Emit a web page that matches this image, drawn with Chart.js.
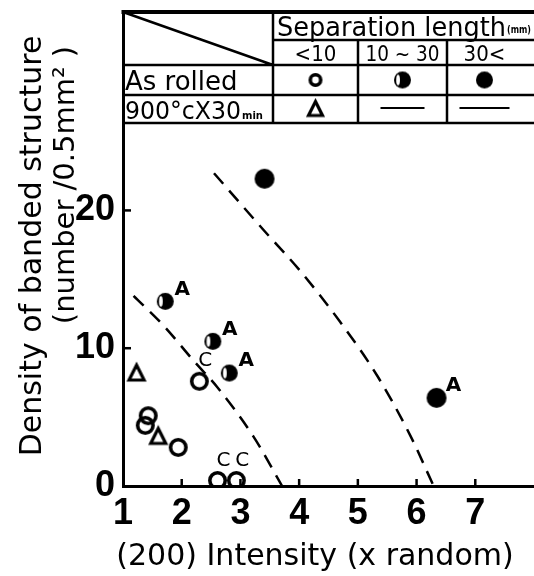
<!DOCTYPE html>
<html>
<head>
<meta charset="utf-8">
<script src="https://cdn.jsdelivr.net/npm/chart.js@4/dist/chart.umd.min.js"></script>
<style>
  html, body { margin: 0; padding: 0; background: #fff; }
  #wrap { width: 534px; height: 576px; }
</style>
</head>
<body>
<div id="wrap"><canvas id="c"></canvas></div>
<script>
// ---- data ----
const openX   = [2.30, 1.43, 1.38, 1.94, 2.61, 2.93];
const openY   = [7.6, 5.1, 4.4, 2.8, 0.4, 0.4];
const openLbl = ['C', '', '', '', 'C', 'C'];

const halfX   = [1.72, 2.53, 2.81];
const halfY   = [13.4, 10.5, 8.2];
const halfLbl = ['A', 'A', 'A'];

const fullX   = [3.41, 6.34];
const fullY   = [22.3, 6.4];
const fullLbl = ['', 'A'];

const triX    = [1.23, 1.60];
const triY    = [8.2, 3.6];

// dashed boundary curves
const curve1X = [1.18, 1.70, 2.20, 2.60, 3.22, 3.71];
const curve1Y = [13.8, 11.6, 9.1, 7.2, 3.6, 0.0];
const curve2X = [2.55, 3.39, 4.02, 4.70, 5.33, 5.90, 6.29];
const curve2Y = [22.7, 18.6, 15.6, 11.9, 8.0, 3.6, 0.0];

const xTicks = [1, 2, 3, 4, 5, 6, 7];
const yTicks = [0, 10, 20];

const xTitle = '(200) Intensity (x random)';
const yTitle = ['Density of banded structure', '(number /0.5mm² )'];

const toPts = (xs, ys) => xs.map((x, i) => ({ x, y: ys[i] }));

// ---- marker images ----
function marker(kind, r) {
  const s = Math.ceil(r * 2 + 6);
  const c = document.createElement('canvas');
  c.width = s; c.height = s;
  const g = c.getContext('2d');
  const m = s / 2;
  g.fillStyle = '#000';
  g.strokeStyle = '#000';
  if (kind === 'open') {
    g.lineWidth = 3.6;
    g.beginPath(); g.arc(m, m, r - 1.8, 0, Math.PI * 2); g.stroke();
  } else if (kind === 'full') {
    g.beginPath(); g.arc(m, m, r, 0, Math.PI * 2); g.fill();
  } else if (kind === 'half') {
    g.beginPath(); g.arc(m, m, r, 0, Math.PI * 2); g.fill();
    g.fillStyle = '#fff';
    g.beginPath();
    g.ellipse(m - r * 0.52, m, r * 0.22, r * 0.62, 0, 0, Math.PI * 2);
    g.fill();
  } else if (kind === 'tri') {
    g.lineWidth = 3.2;
    g.lineJoin = 'miter';
    g.beginPath();
    g.moveTo(m, m - r + 1);
    g.lineTo(m + r - 1.5, m + r - 2);
    g.lineTo(m - r + 1.5, m + r - 2);
    g.closePath();
    g.stroke();
  }
  return c;
}

const mkOpen = marker('open', 9.5);
const mkHalf = marker('half', 8.5);
const mkFull = marker('full', 10);
const mkTri  = marker('tri', 9);
const mkOpenS = marker('open', 7);
const mkHalfS = marker('half', 8.5);
const mkFullS = marker('full', 8.5);
const mkTriS  = marker('tri', 8.5);

// ---- point letters (A / C) ----
const letterPlugin = {
  id: 'letters',
  afterDatasetsDraw(chart) {
    const { ctx, scales } = chart;
    const groups = [
      { xs: openX, ys: openY, lbl: openLbl, dx: 6, dy: -20 },
      { xs: halfX, ys: halfY, lbl: halfLbl, dx: 17, dy: -12 },
      { xs: fullX, ys: fullY, lbl: fullLbl, dx: 17, dy: -12 }
    ];
    ctx.save();
    ctx.fillStyle = '#000';
    ctx.textAlign = 'center';
    ctx.textBaseline = 'middle';
    groups.forEach(gr => {
      gr.lbl.forEach((t, i) => {
        if (!t) return;
        const px = scales.x.getPixelForValue(gr.xs[i]);
        const py = scales.y.getPixelForValue(gr.ys[i]);
        ctx.font = (t === 'A' ? 'bold 20px' : '20px') + ' "DejaVu Sans", sans-serif';
        ctx.fillText(t, px + gr.dx, py + gr.dy);
      });
    });
    ctx.restore();
  }
};

// ---- legend table, inner ticks, axis titles ----
const framePlugin = {
  id: 'frame',
  afterDraw(chart) {
    const { ctx, chartArea, scales } = chart;
    const L = chartArea.left, T = chartArea.top, R = chart.width;
    const c1 = 273, c2 = 358, c3 = 447;
    const r1 = 40, r2 = 65, r3 = 95, r4 = 123;

    ctx.save();
    ctx.strokeStyle = '#000';
    ctx.fillStyle = '#000';

    // inner tick marks
    ctx.lineWidth = 2.5;
    xTicks.slice(1).forEach(v => {
      const x = scales.x.getPixelForValue(v);
      ctx.beginPath(); ctx.moveTo(x, chartArea.bottom); ctx.lineTo(x, chartArea.bottom - 7); ctx.stroke();
    });
    yTicks.slice(1).forEach(v => {
      const y = scales.y.getPixelForValue(v);
      ctx.beginPath(); ctx.moveTo(L, y); ctx.lineTo(L + 8, y); ctx.stroke();
    });

    // table
    ctx.lineWidth = 4;
    ctx.beginPath(); ctx.moveTo(L - 1.5, T); ctx.lineTo(R, T); ctx.stroke();
    ctx.lineWidth = 2.5;
    ctx.beginPath();
    ctx.moveTo(c1, r1); ctx.lineTo(R, r1);
    ctx.moveTo(L, r2); ctx.lineTo(R, r2);
    ctx.moveTo(L, r3); ctx.lineTo(R, r3);
    ctx.moveTo(L, r4); ctx.lineTo(R, r4);
    ctx.moveTo(c1, T); ctx.lineTo(c1, r4);
    ctx.moveTo(c2, r1); ctx.lineTo(c2, r4);
    ctx.moveTo(c3, r1); ctx.lineTo(c3, r4);
    ctx.moveTo(L, T); ctx.lineTo(c1, r2);
    ctx.stroke();

    ctx.textBaseline = 'alphabetic';
    ctx.textAlign = 'left';
    ctx.font = '26px "DejaVu Sans", sans-serif';
    ctx.fillText('Separation length', 277, 36, 229);
    ctx.font = 'bold 10px "DejaVu Sans", sans-serif';
    ctx.fillText('(mm)', 507, 33, 24);

    ctx.textAlign = 'center';
    ctx.font = '22px "DejaVu Sans Condensed", "DejaVu Sans", sans-serif';
    ctx.fillText('<10', (c1 + c2) / 2, 61);
    ctx.fillText('10 ~ 30', (c2 + c3) / 2, 61, 74);
    ctx.fillText('30<', (c3 + R) / 2 - 6, 61);

    ctx.textAlign = 'left';
    ctx.font = '26px "DejaVu Sans", sans-serif';
    ctx.fillText('As rolled', L + 2, 90, 116);
    ctx.font = '24px "DejaVu Sans", sans-serif';
    ctx.fillText('900°cX30', L + 2, 119, 116);
    ctx.font = 'bold 11px "DejaVu Sans", sans-serif';
    ctx.fillText('min', 242, 119, 21);

    const cx1 = (c1 + c2) / 2, cx2 = (c2 + c3) / 2, cx3 = (c3 + R) / 2 - 6;
    ctx.drawImage(mkOpenS, cx1 - mkOpenS.width / 2, 80 - mkOpenS.height / 2);
    ctx.drawImage(mkHalfS, cx2 - mkHalfS.width / 2, 80 - mkHalfS.height / 2);
    ctx.drawImage(mkFullS, cx3 - mkFullS.width / 2, 80 - mkFullS.height / 2);
    ctx.drawImage(mkTriS, cx1 - mkTriS.width / 2, 109 - mkTriS.height / 2);
    ctx.lineWidth = 2;
    ctx.beginPath();
    ctx.moveTo(cx2 - 22, 108); ctx.lineTo(cx2 + 22, 108);
    ctx.moveTo(cx3 - 25, 108); ctx.lineTo(cx3 + 25, 108);
    ctx.stroke();

    // x axis title
    ctx.textAlign = 'center';
    ctx.textBaseline = 'middle';
    ctx.font = '30px "DejaVu Sans", sans-serif';
    ctx.fillText(xTitle, 315, 557, 404);

    // y axis title (two lines, rotated)
    ctx.save();
    ctx.translate(33, 246);
    ctx.rotate(-Math.PI / 2);
    ctx.font = '30px "DejaVu Sans", sans-serif';
    ctx.fillText(yTitle[0], 0, 0, 428);
    ctx.restore();
    ctx.save();
    ctx.translate(66, 185);
    ctx.rotate(-Math.PI / 2);
    ctx.font = '29px "DejaVu Sans", sans-serif';
    ctx.fillText(yTitle[1], 0, 0, 310);
    ctx.restore();

    ctx.restore();
  }
};

const dashed = {
  showLine: true,
  borderColor: '#000',
  borderWidth: 2.5,
  borderDash: [14, 9],
  pointRadius: 0,
  cubicInterpolationMode: 'monotone',
  fill: false
};

const tickFont = { family: '"Liberation Sans", sans-serif', size: 36, weight: 'bold' };

new Chart(document.getElementById('c'), {
  type: 'scatter',
  data: {
    datasets: [
      Object.assign({ data: toPts(curve1X, curve1Y) }, dashed),
      Object.assign({ data: toPts(curve2X, curve2Y) }, dashed),
      { data: toPts(openX, openY), pointStyle: mkOpen, pointRadius: 9 },
      { data: toPts(halfX, halfY), pointStyle: mkHalf, pointRadius: 9 },
      { data: toPts(fullX, fullY), pointStyle: mkFull, pointRadius: 10 },
      { data: toPts(triX, triY), pointStyle: mkTri, pointRadius: 9 }
    ]
  },
  plugins: [letterPlugin, framePlugin],
  options: {
    responsive: true,
    maintainAspectRatio: false,
    animation: false,
    layout: { autoPadding: false, padding: { top: 12, left: 0, right: 0, bottom: 0 } },
    scales: {
      x: {
        type: 'linear',
        min: 1,
        max: 8,
        afterBuildTicks: s => { s.ticks = xTicks.map(v => ({ value: v })); },
        afterFit: s => { s.height = 90; s.paddingLeft = 0; s.paddingRight = 0; },
        grid: { display: false, drawTicks: false },
        border: { display: true, color: '#000', width: 3 },
        ticks: { color: '#000', padding: 6, maxRotation: 0, font: tickFont }
      },
      y: {
        min: 0,
        max: 34.4,
        afterBuildTicks: s => { s.ticks = yTicks.map(v => ({ value: v })); },
        afterFit: s => { s.width = 123; s.paddingTop = 0; s.paddingBottom = 0; },
        grid: { display: false, drawTicks: false },
        border: { display: true, color: '#000', width: 3 },
        ticks: { color: '#000', padding: 8, font: tickFont }
      }
    },
    plugins: {
      legend: { display: false },
      tooltip: { enabled: false }
    }
  }
});
</script>
</body>
</html>
